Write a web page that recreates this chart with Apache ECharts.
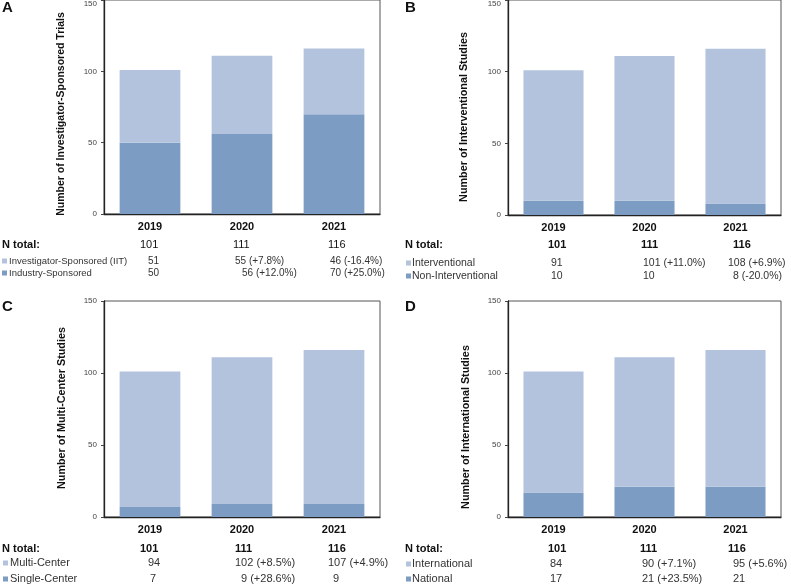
<!DOCTYPE html>
<html>
<head>
<meta charset="utf-8">
<script src="https://cdn.jsdelivr.net/npm/echarts@6/dist/echarts.min.js"></script>
<style>html,body{margin:0;padding:0;background:#fff}#c{width:791px;height:585px}</style>
</head>
<body>
<div id="c"></div>
<script>
// ---- data ----
const years = ['2019', '2020', '2021'];
const yTicks = [0, 50, 100, 150];

const aTitle = 'Number of Investigator-Sponsored Trials';
const aNames = ['Investigator-Sponsored (IIT)', 'Industry-Sponsored'];
const aLight = [51, 55, 46];
const aDark = [50, 56, 70];
const aTotals = ['101', '111', '116'];
const aLightText = ['51', '55 (+7.8%)', '46 (-16.4%)'];
const aDarkText = ['50', '56 (+12.0%)', '70 (+25.0%)'];

const bTitle = 'Number of Interventional Studies';
const bNames = ['Interventional', 'Non-Interventional'];
const bLight = [91, 101, 108];
const bDark = [10, 10, 8];
const bTotals = ['101', '111', '116'];
const bLightText = ['91', '101 (+11.0%)', '108 (+6.9%)'];
const bDarkText = ['10', '10', '8 (-20.0%)'];

const cTitle = 'Number of Multi-Center Studies';
const cNames = ['Multi-Center', 'Single-Center'];
const cLight = [94, 102, 107];
const cDark = [7, 9, 9];
const cTotals = ['101', '111', '116'];
const cLightText = ['94', '102 (+8.5%)', '107 (+4.9%)'];
const cDarkText = ['7', '9 (+28.6%)', '9'];

const dTitle = 'Number of International Studies';
const dNames = ['International', 'National'];
const dLight = [84, 90, 95];
const dDark = [17, 21, 21];
const dTotals = ['101', '111', '116'];
const dLightText = ['84', '90 (+7.1%)', '95 (+5.6%)'];
const dDarkText = ['17', '21 (+23.5%)', '21'];

// ---- layout ----
const LIGHT = '#B3C3DE', DARK = '#7D9CC3';
const FONT = '"Liberation Sans", Arial, Helvetica, sans-serif';

const panels = [
  { letter: 'A', title: aTitle, names: aNames, light: aLight, dark: aDark, totals: aTotals, lt: aLightText, dt: aDarkText,
    grid: { left: 104, top: -3, width: 276, height: 217 }, letterPos: [2, 8], titlePos: [61, 114], tfs: 10.5,
    rowsY: [245, 261, 273], nX: 2, sqX: 2, labX: 9, boldN: false, fs: 9.5, vfs: 10,
    vx: [[140, 233, 328], [148, 235, 330], [148, 242, 330]] },
  { letter: 'B', title: bTitle, names: bNames, light: bLight, dark: bDark, totals: bTotals, lt: bLightText, dt: bDarkText,
    grid: { left: 508, top: -3, width: 273, height: 218 }, letterPos: [405, 8], titlePos: [464, 117], tfs: 10.8,
    rowsY: [245, 263, 276], nX: 405, sqX: 406, labX: 412, boldN: true, fs: 10.5, vfs: 10.5,
    vx: [[548, 641, 733], [551, 643, 728], [551, 643, 733]] },
  { letter: 'C', title: cTitle, names: cNames, light: cLight, dark: cDark, totals: cTotals, lt: cLightText, dt: cDarkText,
    grid: { left: 104, top: 301, width: 276, height: 216 }, letterPos: [2, 307], titlePos: [62, 408], tfs: 10.8,
    rowsY: [549, 563, 579], nX: 2, sqX: 3, labX: 10, boldN: true, fs: 11, vfs: 11,
    vx: [[140, 235, 328], [148, 235, 328], [150, 241, 333]] },
  { letter: 'D', title: dTitle, names: dNames, light: dLight, dark: dDark, totals: dTotals, lt: dLightText, dt: dDarkText,
    grid: { left: 508, top: 301, width: 273, height: 216 }, letterPos: [405, 307], titlePos: [466, 427], tfs: 10.8,
    rowsY: [549, 564, 579], nX: 405, sqX: 406, labX: 412, boldN: true, fs: 11, vfs: 11,
    vx: [[548, 640, 728], [550, 642, 733], [550, 642, 733]] }
];

const grids = [], xAxes = [], yAxes = [], series = [], graphics = [];

function txt(x, y, s, size, opts) {
  opts = opts || {};
  graphics.push({
    type: 'text', x: x, y: y, rotation: opts.rot || 0, silent: true,
    style: {
      text: s, fontSize: size, fontFamily: FONT, fontWeight: opts.bold ? 'bold' : 'normal',
      fill: opts.color || '#333', textAlign: opts.align || 'left', textVerticalAlign: 'middle'
    }
  });
}

panels.forEach((p, i) => {
  grids.push(Object.assign({ show: true, borderColor: '#555', borderWidth: 1, containLabel: false }, p.grid));
  xAxes.push({
    type: 'category', gridIndex: i, data: years,
    axisLine: { lineStyle: { color: '#222', width: 1.3 } },
    axisTick: { show: false },
    axisLabel: { fontSize: 11, fontWeight: 'bold', color: '#111', margin: 7, fontFamily: FONT }
  });
  const topCut = p.grid.top < 0;
  yAxes.push({
    type: 'value', gridIndex: i, min: yTicks[0], max: yTicks[yTicks.length - 1], interval: 50,
    splitLine: { show: false },
    axisLine: { show: true, lineStyle: { color: '#222', width: 1.3 } },
    axisTick: { show: true, length: 3, lineStyle: { color: '#444' } },
    axisLabel: {
      fontSize: 8, color: '#444', margin: 7, fontFamily: FONT,
      formatter: v => (topCut && v === 150) ? '{t|150}' : String(v),
      rich: { t: { fontSize: 8, color: '#444', padding: [8, 0, 0, 0], fontFamily: FONT } }
    }
  });
  series.push({
    type: 'bar', name: p.names[1], xAxisIndex: i, yAxisIndex: i, stack: 's' + i,
    data: p.dark, barWidth: '66%', itemStyle: { color: DARK }
  });
  series.push({
    type: 'bar', name: p.names[0], xAxisIndex: i, yAxisIndex: i, stack: 's' + i,
    data: p.light, barWidth: '66%', itemStyle: { color: LIGHT }
  });

  // panel letter and y title
  txt(p.letterPos[0], p.letterPos[1], p.letter, 15, { bold: true, color: '#111' });
  txt(p.titlePos[0], p.titlePos[1], p.title, p.tfs, { bold: true, color: '#111', rot: Math.PI / 2, align: 'center' });

  // table
  txt(p.nX, p.rowsY[0], 'N total:', 11, { bold: true, color: '#111' });
  p.totals.forEach((t, j) => txt(p.vx[0][j], p.rowsY[0], t, 11, { bold: p.boldN, color: '#111' }));
  [[p.names[0], p.lt, LIGHT], [p.names[1], p.dt, DARK]].forEach((row, r) => {
    const y = p.rowsY[r + 1];
    graphics.push({ type: 'rect', silent: true, shape: { x: p.sqX, y: y - 2.5, width: 5, height: 5 }, style: { fill: row[2] } });
    txt(p.labX, y, row[0], p.fs, { color: '#333' });
    row[1].forEach((t, j) => txt(p.vx[r + 1][j], y, t, p.vfs, { color: '#333' }));
  });
});

const chart = echarts.init(document.getElementById('c'), null, { renderer: 'canvas' });
chart.setOption({
  animation: false,
  backgroundColor: '#fff',
  textStyle: { fontFamily: FONT },
  grid: grids, xAxis: xAxes, yAxis: yAxes, series: series,
  graphic: { elements: graphics }
});
</script>
</body>
</html>
